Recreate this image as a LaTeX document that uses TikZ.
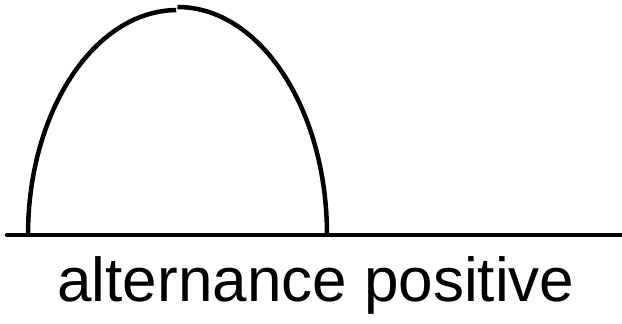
\documentclass[tikz,border=0pt]{standalone}
\usepackage{fontspec}
\setmainfont{Liberation Sans}
\usetikzlibrary{positioning}
\tikzset{
    every node/.append style={align=center},
    axisline/.style={line width=4.5pt,line cap=round},
    wave/.style={line width=4.5pt},
    caption/.style={font=\fontsize{62}{68}\selectfont,inner sep=0pt,anchor=base}
}
\begin{document}
\begin{tikzpicture}[x=1pt,y=1pt]
    \useasboundingbox (0,0) rectangle (622,324);
    % time axis
    \coordinate (axisL) at (7,89);
    \coordinate (axisR) at (624,89);
    \draw[axisline] (axisL) -- (axisR);
    % positive half-wave
    \coordinate (waveL) at (28,89);
    \coordinate (waveR) at (327,89);
    \draw[wave] (waveL) arc[start angle=180,end angle=90.5,x radius=149.5,y radius=225];
    \draw[wave] (waveR) arc[start angle=0,end angle=90,x radius=149.5,y radius=228];
    % caption
    \node[caption] (label) at (316,22) {alternance positive};
\end{tikzpicture}
\end{document}
